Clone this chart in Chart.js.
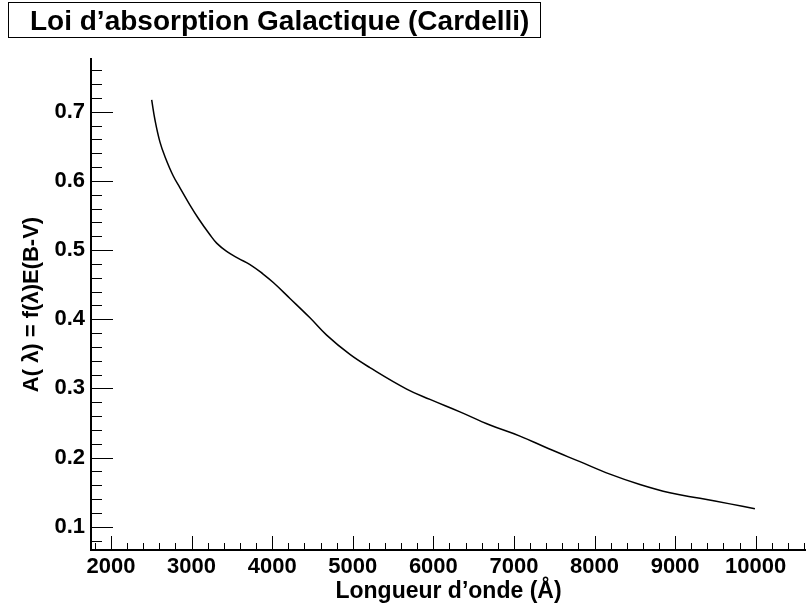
<!DOCTYPE html>
<html>
<head>
<meta charset="utf-8">
<script src="https://cdn.jsdelivr.net/npm/chart.js@4.4.1/dist/chart.umd.min.js"></script>
<style>
  html, body { margin: 0; padding: 0; background: #fff; }
  #wrap { position: relative; width: 806px; height: 609px; }
  #plot { position: absolute; left: 0; top: 0; }
  #title {
    position: absolute; left: 8px; top: 2px; width: 531px; height: 34px;
    border: 1px solid #000; box-sizing: content-box;
    font: bold 28px "Liberation Sans", Arial, sans-serif; color: #000;
    line-height: 34px; white-space: nowrap;
  }
  #title span { position: absolute; left: 21px; top: 1px; }
</style>
</head>
<body>
<div id="wrap">
  <canvas id="plot" width="806" height="609"></canvas>
  <div id="title"><span>Loi d’absorption Galactique (Cardelli)</span></div>
</div>
<script>
// Galactic extinction curve (Cardelli law): wavelength in Angstrom, A(lambda)
const wavelength = [2505, 2546, 2608, 2670, 2773, 2856, 2980, 3083, 3228, 3311,
                    3435, 3580, 3725, 3880, 4014, 4221, 4469, 4676, 4965, 5213,
                    5669, 5958, 6330, 6702, 7074, 7426, 7819, 8191, 8563, 8935,
                    9308, 9680, 9990];
const absorption = [0.717, 0.688, 0.656, 0.635, 0.607, 0.590, 0.565, 0.546, 0.522, 0.510,
                    0.498, 0.488, 0.479, 0.466, 0.453, 0.430, 0.402, 0.377, 0.349, 0.330,
                    0.299, 0.284, 0.266, 0.247, 0.231, 0.213, 0.194, 0.176, 0.161, 0.149,
                    0.141, 0.133, 0.126];

// Axis labels
const xTicks = [2000, 3000, 4000, 5000, 6000, 7000, 8000, 9000, 10000];
const yTicks = [0.1, 0.2, 0.3, 0.4, 0.5, 0.6, 0.7];
const xTitle = 'Longueur d’onde (Å)';
const yTitle = 'A( λ) = f(λ)E(B-V)';

const FONT = '"Liberation Sans", Arial, sans-serif';

// Tick marks pointing into the plot area, with minor subdivisions
const inwardTicks = {
  id: 'inwardTicks',
  afterDraw(chart) {
    const { ctx, chartArea: a, scales: { x, y } } = chart;
    ctx.save();
    ctx.strokeStyle = '#000';
    ctx.lineWidth = 1;
    ctx.beginPath();
    const xStep = 200, yStep = 0.02;
    for (let v = Math.ceil(x.min / xStep) * xStep; v <= x.max; v += xStep) {
      const px = Math.round(x.getPixelForValue(v)) + 0.5;
      const major = Math.abs(v % 1000) < 1e-6;
      ctx.moveTo(px, a.bottom);
      ctx.lineTo(px, a.bottom - (major ? 14 : 7));
    }
    for (let i = Math.ceil(y.min / yStep); i * yStep <= y.max + 1e-9; i++) {
      const v = i * yStep;
      const py = Math.round(y.getPixelForValue(v)) + 0.5;
      const major = i % 5 === 0;
      ctx.moveTo(a.left, py);
      ctx.lineTo(a.left + (major ? 22 : 11), py);
    }
    ctx.stroke();
    ctx.restore();
  }
};

const points = wavelength.map((w, i) => ({ x: w, y: absorption[i] }));

new Chart(document.getElementById('plot'), {
  type: 'line',
  data: {
    datasets: [{
      data: points,
      borderColor: '#000',
      borderWidth: 1.5,
      pointRadius: 0,
      fill: false,
      tension: 0.4
    }]
  },
  options: {
    responsive: false,
    animation: false,
    devicePixelRatio: 1,
    layout: { padding: { top: 59, left: 0, right: 0, bottom: 0 } },
    plugins: { legend: { display: false }, tooltip: { enabled: false }, title: { display: false } },
    scales: {
      x: {
        type: 'linear',
        min: 1752,
        max: 10624,
        afterBuildTicks: s => { s.ticks = xTicks.map(v => ({ value: v })); },
        afterFit: s => { s.height = 59; },
        grid: { display: false, drawTicks: false },
        border: { display: true, color: '#000', width: 2 },
        ticks: {
          color: '#000', padding: 4, maxRotation: 0, autoSkip: false,
          font: { family: FONT, size: 22, weight: 'bold' },
          callback: v => String(v)
        },
        title: {
          display: true, text: xTitle, color: '#000',
          font: { family: FONT, size: 23, weight: 'bold' },
          padding: { top: 0, bottom: 4 }
        }
      },
      y: {
        type: 'linear',
        min: 0.0663,
        max: 0.7762,
        afterBuildTicks: s => { s.ticks = yTicks.map(v => ({ value: v })); },
        afterFit: s => { s.width = 91; },
        grid: { display: false, drawTicks: false },
        border: { display: true, color: '#000', width: 2 },
        ticks: {
          color: '#000', padding: 6, autoSkip: false,
          font: { family: FONT, size: 22, weight: 'bold' },
          callback: v => v.toFixed(1)
        },
        title: {
          display: true, text: yTitle, color: '#000',
          font: { family: FONT, size: 22, weight: 'bold' },
          padding: { top: 19, bottom: 0 }
        }
      }
    }
  },
  plugins: [inwardTicks]
});
</script>
</body>
</html>
